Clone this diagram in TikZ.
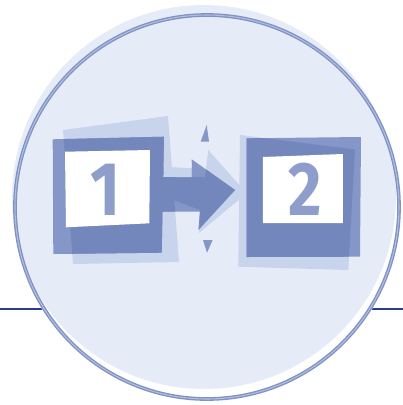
\documentclass[tikz,border=0pt]{standalone}
\usepackage{fontspec}
\newfontfamily\digitfont{Fira Sans}
\definecolor{bgfill}{HTML}{E6ECF7}
\definecolor{lightc}{HTML}{C8D4EB}
\definecolor{medc}{HTML}{8597C8}
\definecolor{darkc}{HTML}{7387BD}
\definecolor{digitc}{HTML}{8E9DCA}
\definecolor{ringc}{HTML}{7F92C6}
\definecolor{hlinec}{HTML}{2B3C8E}
\begin{document}
\begin{tikzpicture}[x=0.75pt,y=-0.75pt,
  hline/.style={draw=hlinec,line width=1.5pt},
  ring/.style={draw=ringc,line width=1pt,double=ringc!60!white,double distance=0.8pt},
  digit/.style={inner sep=0pt,anchor=base,text=digitc,font=\digitfont\bfseries\fontsize{57}{57}\selectfont,xscale=0.85},
  window/.style={fill=white},
  tri/.style={fill=medc}]
\useasboundingbox (0,0) rectangle (403,405);
% horizontal rule behind the disc
\draw[hline] (0,308.5) -- (403,308.5);
\fill[white] (207,207) circle (194);
\fill[bgfill] (204,197) circle (192);
% light back shapes
\fill[lightc] (63,130)--(168,116)--(179,262)--(73,264)--cycle;
\fill[lightc] (240,135)--(355,149.5)--(348.3,270)--(238.3,266.7)--cycle;
\fill[lightc] (163,166.7)--(192,168.3)--(192,177)--(205,177)--(208.3,150)--(246.7,193.3)--(199,233)--(200,210)--(173.3,200)--(163,199)--cycle;
% front shapes (medium where alone)
\fill[medc] (52.7,139.3)--(164,136.7)--(161.7,252.7)--(53.3,254)--cycle;
\fill[medc] (246.7,138.3)--(361,137)--(360,256.7)--(246.7,257)--cycle;
\fill[medc] (160,177)--(192,177.5)--(191.7,159.3)--(235,190)--(198.3,230)--(200,211.7)--(160,211.7)--cycle;
% overlaps (dark)
\begin{scope}
  \clip (63,130)--(168,116)--(179,262)--(73,264)--cycle;
  \fill[darkc] (52.7,139.3)--(164,136.7)--(161.7,252.7)--(53.3,254)--cycle;
  \fill[darkc] (160,177)--(192,177.5)--(191.7,159.3)--(235,190)--(198.3,230)--(200,211.7)--(160,211.7)--cycle;
\end{scope}
\begin{scope}
  \clip (240,135)--(355,149.5)--(348.3,270)--(238.3,266.7)--cycle;
  \fill[darkc] (246.7,138.3)--(361,137)--(360,256.7)--(246.7,257)--cycle;
\end{scope}
\begin{scope}
  \clip (163,166.7)--(192,168.3)--(192,177)--(205,177)--(208.3,150)--(246.7,193.3)--(199,233)--(200,210)--(173.3,200)--(163,199)--cycle;
  \fill[darkc] (160,177)--(192,177.5)--(191.7,159.3)--(235,190)--(198.3,230)--(200,211.7)--(160,211.7)--cycle;
  \fill[darkc] (52.7,139.3)--(164,136.7)--(161.7,252.7)--(53.3,254)--cycle;
\end{scope}
% white windows
\fill[window] (65,151.7)--(150,150)--(149.3,223.3)--(66,227.3)--cycle;
\fill[window] (263,157)--(343,154)--(343,223)--(263,223)--cycle;
% digits
\node[digit] (one) at (105,215) {1};
\node[digit] (two) at (305.5,215) {2};
% small triangles
\fill[tri] (200.7,141.7)--(209,141.7)--(206.7,125)--cycle;
\fill[tri] (203,240)--(212.7,240)--(207,252.7)--cycle;
% outer ring
\draw[ring] (207,207) circle (192);
\end{tikzpicture}
\end{document}
